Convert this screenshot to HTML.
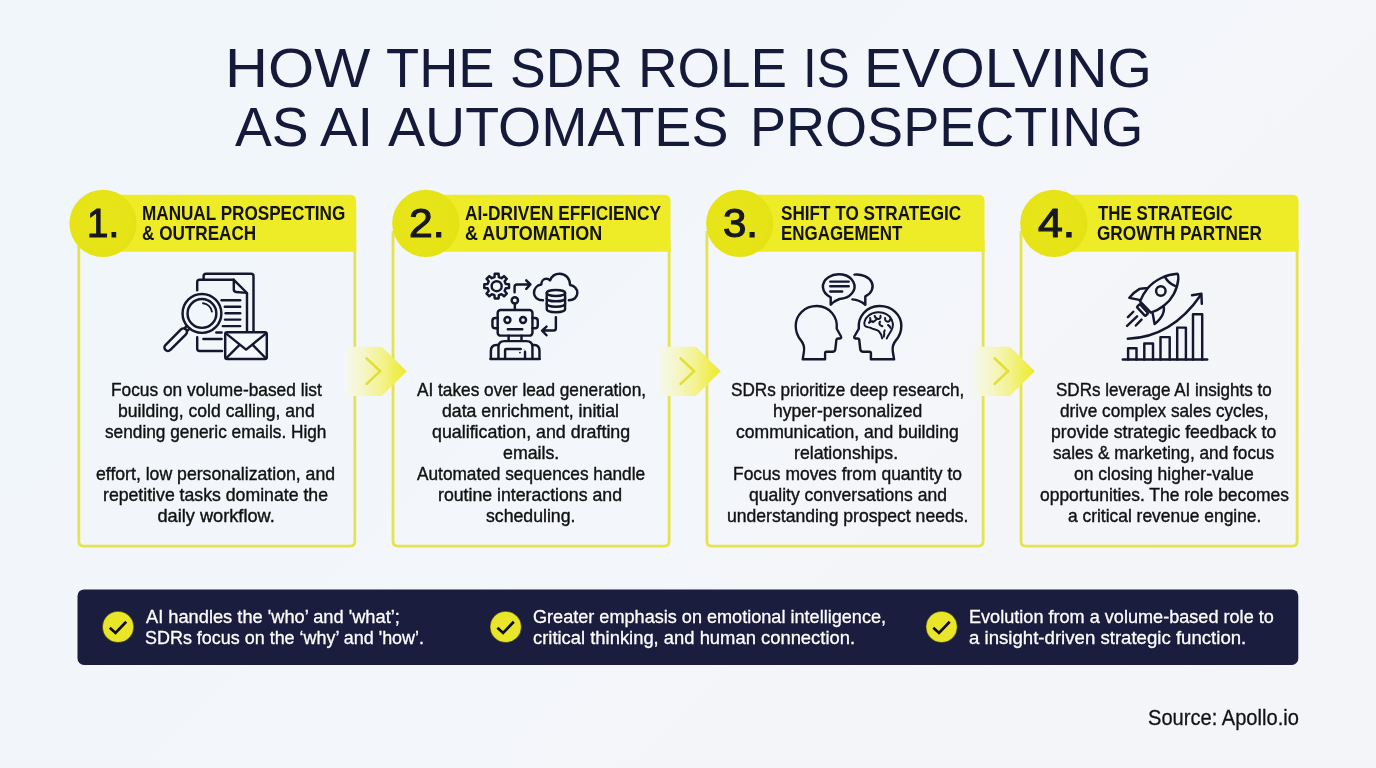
<!DOCTYPE html>
<html><head><meta charset="utf-8"><title>How the SDR role is evolving</title>
<style>
html,body{margin:0;padding:0}
body{width:1376px;height:768px;position:relative;overflow:hidden;background:linear-gradient(135deg,#f1f6fa 0%,#f3f6fa 50%,#f3f5f9 100%);font-family:"Liberation Sans",sans-serif}
.t{position:absolute;white-space:nowrap;transform-origin:0 0;line-height:1;margin:0;padding:0}
.arr{position:absolute;top:346.7px}
.chk{position:absolute;top:611px}
.icons{position:absolute;left:0;top:0}
</style></head><body>
<svg class="icons" width="1376" height="768" viewBox="0 0 1376 768"><defs><radialGradient id="cg" cx="0.42" cy="0.45" r="0.6"><stop offset="0" stop-color="#e8e51c"/><stop offset="1" stop-color="#e5e214"/></radialGradient></defs><path d="M78.80 231V541.30Q78.80 546.10 83.60 546.10H350.00Q354.80 546.10 354.80 541.30V240" fill="none" stroke="#e6e44a" stroke-width="2.8"/><path d="M103.00 251.7V194.8H350.20Q356.20 194.8 356.20 201V251.7Z" fill="#eeeb27"/><circle cx="103.00" cy="223.4" r="33.6" fill="url(#cg)"/><path d="M393.00 231V541.30Q393.00 546.10 397.80 546.10H664.30Q669.10 546.10 669.10 541.30V240" fill="none" stroke="#e6e44a" stroke-width="2.8"/><path d="M425.80 251.7V194.8H664.50Q670.50 194.8 670.50 201V251.7Z" fill="#eeeb27"/><circle cx="425.80" cy="223.4" r="33.6" fill="url(#cg)"/><path d="M706.90 231V541.30Q706.90 546.10 711.70 546.10H978.30Q983.10 546.10 983.10 541.30V240" fill="none" stroke="#e6e44a" stroke-width="2.8"/><path d="M739.70 251.7V194.8H978.50Q984.50 194.8 984.50 201V251.7Z" fill="#eeeb27"/><circle cx="739.70" cy="223.4" r="33.6" fill="url(#cg)"/><path d="M1021.00 231V541.30Q1021.00 546.10 1025.80 546.10H1292.30Q1297.10 546.10 1297.10 541.30V240" fill="none" stroke="#e6e44a" stroke-width="2.8"/><path d="M1053.80 251.7V194.8H1292.50Q1298.50 194.8 1298.50 201V251.7Z" fill="#eeeb27"/><circle cx="1053.80" cy="223.4" r="33.6" fill="url(#cg)"/><rect x="77.5" y="589.4" width="1220.8" height="75.5" rx="6.5" fill="#1a1d3e"/><defs><linearGradient id="ag" x1="0" x2="1" y1="0" y2="0"><stop offset="0" stop-color="#f5f8ec"/><stop offset="0.3" stop-color="#f5f6c4"/><stop offset="0.6" stop-color="#f3f28c"/><stop offset="0.82" stop-color="#f0ee52"/><stop offset="1" stop-color="#edea2c"/></linearGradient></defs><g transform="translate(345.8 346.7)"><path d="M0 0H36L61 24.6L36 49.2H0Z" fill="url(#ag)"/><path d="M20.8 11.7L34.4 24.4L20.8 37.2" fill="none" stroke="#e1de34" stroke-width="2.6" stroke-linecap="round" stroke-linejoin="round"/></g><g transform="translate(659.8 346.7)"><path d="M0 0H36L61 24.6L36 49.2H0Z" fill="url(#ag)"/><path d="M20.8 11.7L34.4 24.4L20.8 37.2" fill="none" stroke="#e1de34" stroke-width="2.6" stroke-linecap="round" stroke-linejoin="round"/></g><g transform="translate(973.8 346.7)"><path d="M0 0H36L61 24.6L36 49.2H0Z" fill="url(#ag)"/><path d="M20.8 11.7L34.4 24.4L20.8 37.2" fill="none" stroke="#e1de34" stroke-width="2.6" stroke-linecap="round" stroke-linejoin="round"/></g><g transform="translate(102.10 610.9)"><circle cx="16" cy="16" r="15.7" fill="#e9e62a" stroke="#101010" stroke-width="0.5"/><path d="M7.7 16.9L13.4 22L24.1 10.9" fill="none" stroke="#0d0d12" stroke-width="2.7"/></g><g transform="translate(489.70 610.9)"><circle cx="16" cy="16" r="15.7" fill="#e9e62a" stroke="#101010" stroke-width="0.5"/><path d="M7.7 16.9L13.4 22L24.1 10.9" fill="none" stroke="#0d0d12" stroke-width="2.7"/></g><g transform="translate(925.60 610.9)"><circle cx="16" cy="16" r="15.7" fill="#e9e62a" stroke="#101010" stroke-width="0.5"/><path d="M7.7 16.9L13.4 22L24.1 10.9" fill="none" stroke="#0d0d12" stroke-width="2.7"/></g></svg>


<svg class="icons" width="1376" height="768" viewBox="0 0 1376 768" fill="none" stroke="#14172e" stroke-width="2.45" stroke-linecap="round" stroke-linejoin="round">
<g>
<path d="M203.6 279.2V276.2Q203.6 273.7 206.1 273.7H251Q253.5 273.7 253.5 276.2V331"/>
<path d="M197.2 290.3V282.2Q197.2 279.8 199.6 279.8H233.8L247 293V331"/>
<path d="M197.2 337.2V348.6Q197.2 351 199.6 351H222"/>
<path d="M233.8 279.8V289.6Q233.8 291.8 236 292L246.6 292.9"/>
<path d="M221.6 300.3H240.2"/>
<path d="M224.8 306.8H240.2"/>
<path d="M225.6 313.2H240.2"/>
<path d="M225 319.6H240.2"/>
<path d="M222.8 326.1H240.2"/>
<path d="M216.3 332.4H221.6M203.4 338.9H221.6"/>
<circle cx="201.95" cy="313.45" r="19.4"/><circle cx="201.95" cy="313.45" r="14.4"/>
<path d="M203 303.3A10.2 10.2 0 0 1 211.9 311.6" stroke-width="1.9"/>
<g transform="translate(188.2 327.2) rotate(135)"><path d="M0 -1.9H3.2M0 1.9H3.2"/><rect x="3.2" y="-3.5" width="29" height="7" rx="3.5"/></g>
<rect x="225.2" y="332.3" width="41.6" height="26.8" rx="2" fill="#f5f8fb"/>
<path d="M226.2 333.6L246.1 349.6L265.8 333.6M226.4 358L238.8 345.6M265.6 358L253.4 345.6"/>
</g>
<g transform="translate(480 268) scale(0.083333)" stroke-width="29.4">
<path d="M173.9 109.1 L176.5 69.8 L223.5 69.8 L226.1 109.1 L258.5 122.5 L288.2 96.6 L321.4 129.8 L295.5 159.5 L308.9 191.9 L348.2 194.5 L348.2 241.5 L308.9 244.1 L295.5 276.5 L321.4 306.2 L288.2 339.4 L258.5 313.5 L226.1 326.9 L223.5 366.2 L176.5 366.2 L173.9 326.9 L141.5 313.5 L111.8 339.4 L78.6 306.2 L104.5 276.5 L91.1 244.1 L51.8 241.5 L51.8 194.5 L91.1 191.9 L104.5 159.5 L78.6 129.8 L111.8 96.6 L141.5 122.5Z" stroke-linejoin="round"/>
<circle cx="200" cy="218" r="60"/>
<path d="M415 290V227Q415 197 445 197H598M555 148L605 197L555 250"/>
<circle cx="418" cy="388" r="38"/><path d="M418 428V500"/>
</g>
<g transform="translate(484 304) scale(0.078125)" stroke-width="31.4">
<rect x="175" y="78" width="445" height="327" rx="38"/>
<path d="M175 180H143Q108 180 108 215V275Q108 310 143 310H175M620 180H653Q688 180 688 215V275Q688 310 653 310H620"/>
<circle cx="300" cy="205" r="38"/><circle cx="500" cy="205" r="38"/>
<path d="M305 322H490M315 405V472M480 405V472"/>
<path d="M185 700V550Q185 475 260 475H545Q620 475 620 550V700"/>
<path d="M88 700V600Q88 528 160 525L185 525M710 700V600Q710 528 645 525L620 525"/>
<path d="M82 705H713"/>
<path d="M270 700V590Q270 575 285 575H470M525 700V610" /><circle cx="512" cy="578" r="6" fill="#14172e" stroke="none"/><circle cx="460" cy="622" r="12" fill="#14172e" stroke="none"/>
<path d="M920 168V310Q920 340 890 340H750M800 290L743 340L800 400"/>
</g>
<g transform="translate(528 268) scale(0.083333)" stroke-width="29.4">
<path d="M180 388C110 388 72 345 72 300C72 245 110 205 160 197C160 160 185 130 220 130C240 130 255 137 265 148C285 95 330 68 380 68C450 68 505 125 505 205C555 210 592 250 592 300C592 350 550 388 490 388"/>
<path d="M225 300V495A110 35 0 0 0 445 495V300Z" fill="#f5f8fb"/>
<ellipse cx="335" cy="300" rx="110" ry="35" fill="#f5f8fb"/>
<path d="M225 365A110 35 0 0 0 445 365M225 430A110 35 0 0 0 445 430"/>
</g>
<path d="M830.7 297.3A15.8 12.4 0 1 1 839.5 299Q834 301 830.7 304.6Z"/>
<path d="M830.3 281.6H848.7M830.3 286.3H848.7M830.3 291.4H842.2"/>
<path d="M854.4 274.6A15.8 11.9 0 0 1 865.3 296.4V304.8Q859.5 299.8 852.4 299.4"/>
<g transform="translate(848 300) scale(0.083333)" stroke-width="29.4">
<path d="M275 712V640Q275 622 258 622H185Q150 622 147 588L135 480Q133 462 115 462H92Q66 458 78 435L130 345C115 200 220 75 375 72C530 70 640 180 640 310C640 380 615 440 575 485C540 525 530 570 538 620L553 712Z"/>
<g stroke-width="24">
<path d="M465 462C480 420 520 380 535 330C550 270 520 200 460 170C400 135 300 140 245 190C205 225 185 275 200 305C215 330 250 325 275 335C300 355 340 345 370 375C395 400 405 430 410 460"/>
<path d="M265 215Q278 250 255 275M252 268L292 255M320 190Q335 235 375 225Q395 215 390 190M335 240L300 265M385 260Q365 285 390 305L412 315M445 215Q440 255 480 260Q505 255 505 230M480 300Q500 310 510 335M440 365Q428 385 435 405L430 440"/>
</g></g>
<g transform="translate(841.6 0) scale(0.965 1) translate(-841.6 0) translate(1695.4 0) scale(-1 1) translate(848 300) scale(0.083333)" stroke-width="29.4">
<path d="M275 712V640Q275 622 258 622H185Q150 622 147 588L135 480Q133 462 115 462H92Q66 458 78 435L130 345C115 200 220 75 375 72C530 70 640 180 640 310C640 380 615 440 575 485C540 525 530 570 538 620L553 712Z"/>
</g>
<path d="M1122.8 359.4H1207.2"/>
<path d="M1128.1 359.4V348.3H1136.5V359.4"/>
<path d="M1144.3 359.4V343.5H1153V359.4"/>
<path d="M1160.5 359.4V337.1H1169.7V359.4"/>
<path d="M1177.2 359.4V327.6H1185.9V359.4"/>
<path d="M1193 359.4V314.3H1202.2V359.4"/>
<path d="M1127.8 338.8Q1172 337 1200.8 295"/>
<path d="M1192 295.2L1201.4 293.8L1201.8 303.8"/>
<g transform="translate(1120 268) scale(0.083333)" stroke-width="29.4">
<path d="M690 70C560 75 420 140 330 245C290 295 255 360 240 400L370 535C420 520 480 490 530 450C620 380 690 260 700 130C702 100 698 80 690 70Z"/>
<path d="M545 115Q580 180 660 215"/>
<circle cx="490" cy="275" r="57"/>
<rect x="196" y="480" width="148" height="50" rx="10" transform="rotate(47.5 270 505)" fill="#f5f8fb"/>
<path d="M325 243C290 240 260 245 235 250C190 275 150 310 112 358L232 383"/>
<path d="M522 455C535 500 520 560 480 610C460 635 440 655 415 672L393 548"/>
<path d="M160 525L95 590M205 580L85 695M258 620L190 690"/>
</g>
</svg>
<div style="position:absolute;left:0;top:0;width:1376px;height:768px;will-change:transform"><div class="t" style="left:224.59px;top:41.44px;font-size:55px;font-weight:400;color:#15193a;transform:scaleX(1.0814)">HOW</div><div class="t" style="left:386.01px;top:41.44px;font-size:55px;font-weight:400;color:#15193a;transform:scaleX(0.9860)">THE</div><div class="t" style="left:509.58px;top:41.44px;font-size:55px;font-weight:400;color:#15193a;transform:scaleX(0.9727)">SDR</div><div class="t" style="left:637.53px;top:41.44px;font-size:55px;font-weight:400;color:#15193a;transform:scaleX(0.9947)">ROLE</div><div class="t" style="left:803.01px;top:41.44px;font-size:55px;font-weight:400;color:#15193a;transform:scaleX(0.8977)">IS</div><div class="t" style="left:864.30px;top:41.44px;font-size:55px;font-weight:400;color:#15193a;transform:scaleX(1.0392)">EVOLVING</div><div class="t" style="left:235.00px;top:100.44px;font-size:55px;font-weight:400;color:#15193a;transform:scaleX(1.0035)">AS</div><div class="t" style="left:320.00px;top:100.44px;font-size:55px;font-weight:400;color:#15193a;transform:scaleX(1.0213)">AI</div><div class="t" style="left:388.00px;top:100.44px;font-size:55px;font-weight:400;color:#15193a;transform:scaleX(1.0097)">AUTOMATES</div><div class="t" style="left:749.59px;top:100.44px;font-size:55px;font-weight:400;color:#15193a;transform:scaleX(0.9827)">PROSPECTING</div><div class="t" style="left:141.65px;top:202.90px;font-size:20.2px;font-weight:700;color:#121212;transform:scaleX(0.8483)">MANUAL PROSPECTING</div><div class="t" style="left:141.65px;top:222.90px;font-size:20.2px;font-weight:700;color:#121212;transform:scaleX(0.8485)">&amp; OUTREACH</div><div class="t" style="left:464.64px;top:202.90px;font-size:20.2px;font-weight:700;color:#121212;transform:scaleX(0.8568)">AI-DRIVEN EFFICIENCY</div><div class="t" style="left:464.61px;top:222.90px;font-size:20.2px;font-weight:700;color:#121212;transform:scaleX(0.8882)">&amp; AUTOMATION</div><div class="t" style="left:781.15px;top:202.90px;font-size:20.2px;font-weight:700;color:#121212;transform:scaleX(0.8483)">SHIFT TO STRATEGIC</div><div class="t" style="left:781.16px;top:222.90px;font-size:20.2px;font-weight:700;color:#121212;transform:scaleX(0.8392)">ENGAGEMENT</div><div class="t" style="left:1097.50px;top:202.90px;font-size:20.2px;font-weight:700;color:#121212;transform:scaleX(0.8359)">THE STRATEGIC</div><div class="t" style="left:1096.65px;top:222.90px;font-size:20.2px;font-weight:700;color:#121212;transform:scaleX(0.8516)">GROWTH PARTNER</div><div class="t" style="left:87.19px;top:203.29px;font-size:41px;font-weight:400;color:#17181f;-webkit-text-stroke:1.15px #17181f;transform:scaleX(0.9375)">1.</div><div class="t" style="left:408.96px;top:203.29px;font-size:41px;font-weight:400;color:#17181f;-webkit-text-stroke:1.15px #17181f;transform:scaleX(1.0417)">2.</div><div class="t" style="left:723.48px;top:203.29px;font-size:41px;font-weight:400;color:#17181f;-webkit-text-stroke:1.15px #17181f;transform:scaleX(1.0250)">3.</div><div class="t" style="left:1037.60px;top:203.29px;font-size:41px;font-weight:400;color:#17181f;-webkit-text-stroke:1.15px #17181f;transform:scaleX(1.0871)">4.</div><div class="t" style="left:110.55px;top:380.59px;font-size:18.2px;font-weight:400;color:#121212;-webkit-text-stroke:0.4px #121212;transform:scaleX(0.9523)">Focus on volume-based list</div><div class="t" style="left:117.53px;top:401.59px;font-size:18.2px;font-weight:400;color:#121212;-webkit-text-stroke:0.4px #121212;transform:scaleX(0.9677)">building, cold calling, and</div><div class="t" style="left:104.55px;top:422.59px;font-size:18.2px;font-weight:400;color:#121212;-webkit-text-stroke:0.4px #121212;transform:scaleX(0.9483)">sending generic emails. High</div><div class="t" style="left:96.28px;top:464.59px;font-size:18.2px;font-weight:400;color:#121212;-webkit-text-stroke:0.4px #121212;transform:scaleX(0.9703)">effort, low personalization, and</div><div class="t" style="left:103.03px;top:485.59px;font-size:18.2px;font-weight:400;color:#121212;-webkit-text-stroke:0.4px #121212;transform:scaleX(0.9717)">repetitive tasks dominate the</div><div class="t" style="left:157.50px;top:506.59px;font-size:18.2px;font-weight:400;color:#121212;-webkit-text-stroke:0.4px #121212;transform:scaleX(1.0000)">daily workflow.</div><div class="t" style="left:416.75px;top:380.59px;font-size:18.2px;font-weight:400;color:#121212;-webkit-text-stroke:0.4px #121212;transform:scaleX(0.9479)">AI takes over lead generation,</div><div class="t" style="left:441.53px;top:401.59px;font-size:18.2px;font-weight:400;color:#121212;-webkit-text-stroke:0.4px #121212;transform:scaleX(0.9722)">data enrichment, initial</div><div class="t" style="left:431.52px;top:422.59px;font-size:18.2px;font-weight:400;color:#121212;-webkit-text-stroke:0.4px #121212;transform:scaleX(0.9800)">qualification, and drafting</div><div class="t" style="left:502.77px;top:443.59px;font-size:18.2px;font-weight:400;color:#121212;-webkit-text-stroke:0.4px #121212;transform:scaleX(0.9773)">emails.</div><div class="t" style="left:416.75px;top:464.59px;font-size:18.2px;font-weight:400;color:#121212;-webkit-text-stroke:0.4px #121212;transform:scaleX(0.9479)">Automated sequences handle</div><div class="t" style="left:438.28px;top:485.59px;font-size:18.2px;font-weight:400;color:#121212;-webkit-text-stroke:0.4px #121212;transform:scaleX(0.9733)">routine interactions and</div><div class="t" style="left:485.78px;top:506.59px;font-size:18.2px;font-weight:400;color:#121212;-webkit-text-stroke:0.4px #121212;transform:scaleX(0.9722)">scheduling.</div><div class="t" style="left:731.06px;top:380.59px;font-size:18.2px;font-weight:400;color:#121212;-webkit-text-stroke:0.4px #121212;transform:scaleX(0.9418)">SDRs prioritize deep research,</div><div class="t" style="left:772.78px;top:401.59px;font-size:18.2px;font-weight:400;color:#121212;-webkit-text-stroke:0.4px #121212;transform:scaleX(0.9657)">hyper-personalized</div><div class="t" style="left:736.03px;top:422.59px;font-size:18.2px;font-weight:400;color:#121212;-webkit-text-stroke:0.4px #121212;transform:scaleX(0.9662)">communication, and building</div><div class="t" style="left:793.53px;top:443.59px;font-size:18.2px;font-weight:400;color:#121212;-webkit-text-stroke:0.4px #121212;transform:scaleX(0.9714)">relationships.</div><div class="t" style="left:733.04px;top:464.59px;font-size:18.2px;font-weight:400;color:#121212;-webkit-text-stroke:0.4px #121212;transform:scaleX(0.9599)">Focus moves from quantity to</div><div class="t" style="left:748.54px;top:485.59px;font-size:18.2px;font-weight:400;color:#121212;-webkit-text-stroke:0.4px #121212;transform:scaleX(0.9643)">quality conversations and</div><div class="t" style="left:727.28px;top:506.59px;font-size:18.2px;font-weight:400;color:#121212;-webkit-text-stroke:0.4px #121212;transform:scaleX(0.9666)">understanding prospect needs.</div><div class="t" style="left:1055.81px;top:380.59px;font-size:18.2px;font-weight:400;color:#121212;-webkit-text-stroke:0.4px #121212;transform:scaleX(0.9356)">SDRs leverage AI insights to</div><div class="t" style="left:1060.05px;top:401.59px;font-size:18.2px;font-weight:400;color:#121212;-webkit-text-stroke:0.4px #121212;transform:scaleX(0.9461)">drive complex sales cycles,</div><div class="t" style="left:1051.28px;top:422.59px;font-size:18.2px;font-weight:400;color:#121212;-webkit-text-stroke:0.4px #121212;transform:scaleX(0.9686)">provide strategic feedback to</div><div class="t" style="left:1053.30px;top:443.59px;font-size:18.2px;font-weight:400;color:#121212;-webkit-text-stroke:0.4px #121212;transform:scaleX(0.9472)">sales &amp; marketing, and focus</div><div class="t" style="left:1073.79px;top:464.59px;font-size:18.2px;font-weight:400;color:#121212;-webkit-text-stroke:0.4px #121212;transform:scaleX(0.9610)">on closing higher-value</div><div class="t" style="left:1039.54px;top:485.59px;font-size:18.2px;font-weight:400;color:#121212;-webkit-text-stroke:0.4px #121212;transform:scaleX(0.9593)">opportunities. The role becomes</div><div class="t" style="left:1067.54px;top:506.59px;font-size:18.2px;font-weight:400;color:#121212;-webkit-text-stroke:0.4px #121212;transform:scaleX(0.9563)">a critical revenue engine.</div><div class="t" style="left:146.25px;top:608.26px;font-size:18.6px;font-weight:400;color:#ffffff;-webkit-text-stroke:0.3px #ffffff;transform:scaleX(0.9815)">AI handles the 'who’ and 'what’;</div><div class="t" style="left:145.29px;top:629.26px;font-size:18.6px;font-weight:400;color:#ffffff;-webkit-text-stroke:0.3px #ffffff;transform:scaleX(0.9650)">SDRs focus on the ‘why’ and 'how’.</div><div class="t" style="left:533.23px;top:608.26px;font-size:18.6px;font-weight:400;color:#ffffff;-webkit-text-stroke:0.3px #ffffff;transform:scaleX(0.9731)">Greater emphasis on emotional intelligence,</div><div class="t" style="left:533.21px;top:629.26px;font-size:18.6px;font-weight:400;color:#ffffff;-webkit-text-stroke:0.3px #ffffff;transform:scaleX(0.9892)">critical thinking, and human connection.</div><div class="t" style="left:968.73px;top:608.26px;font-size:18.6px;font-weight:400;color:#ffffff;-webkit-text-stroke:0.3px #ffffff;transform:scaleX(0.9734)">Evolution from a volume-based role to</div><div class="t" style="left:968.70px;top:629.26px;font-size:18.6px;font-weight:400;color:#ffffff;-webkit-text-stroke:0.3px #ffffff;transform:scaleX(1.0011)">a insight-driven strategic function.</div><div class="t" style="left:1148.08px;top:706.55px;font-size:21.8px;font-weight:400;color:#131313;-webkit-text-stroke:0.3px #131313;transform:scaleX(0.9222)">Source: Apollo.io</div></div>
</body></html>
